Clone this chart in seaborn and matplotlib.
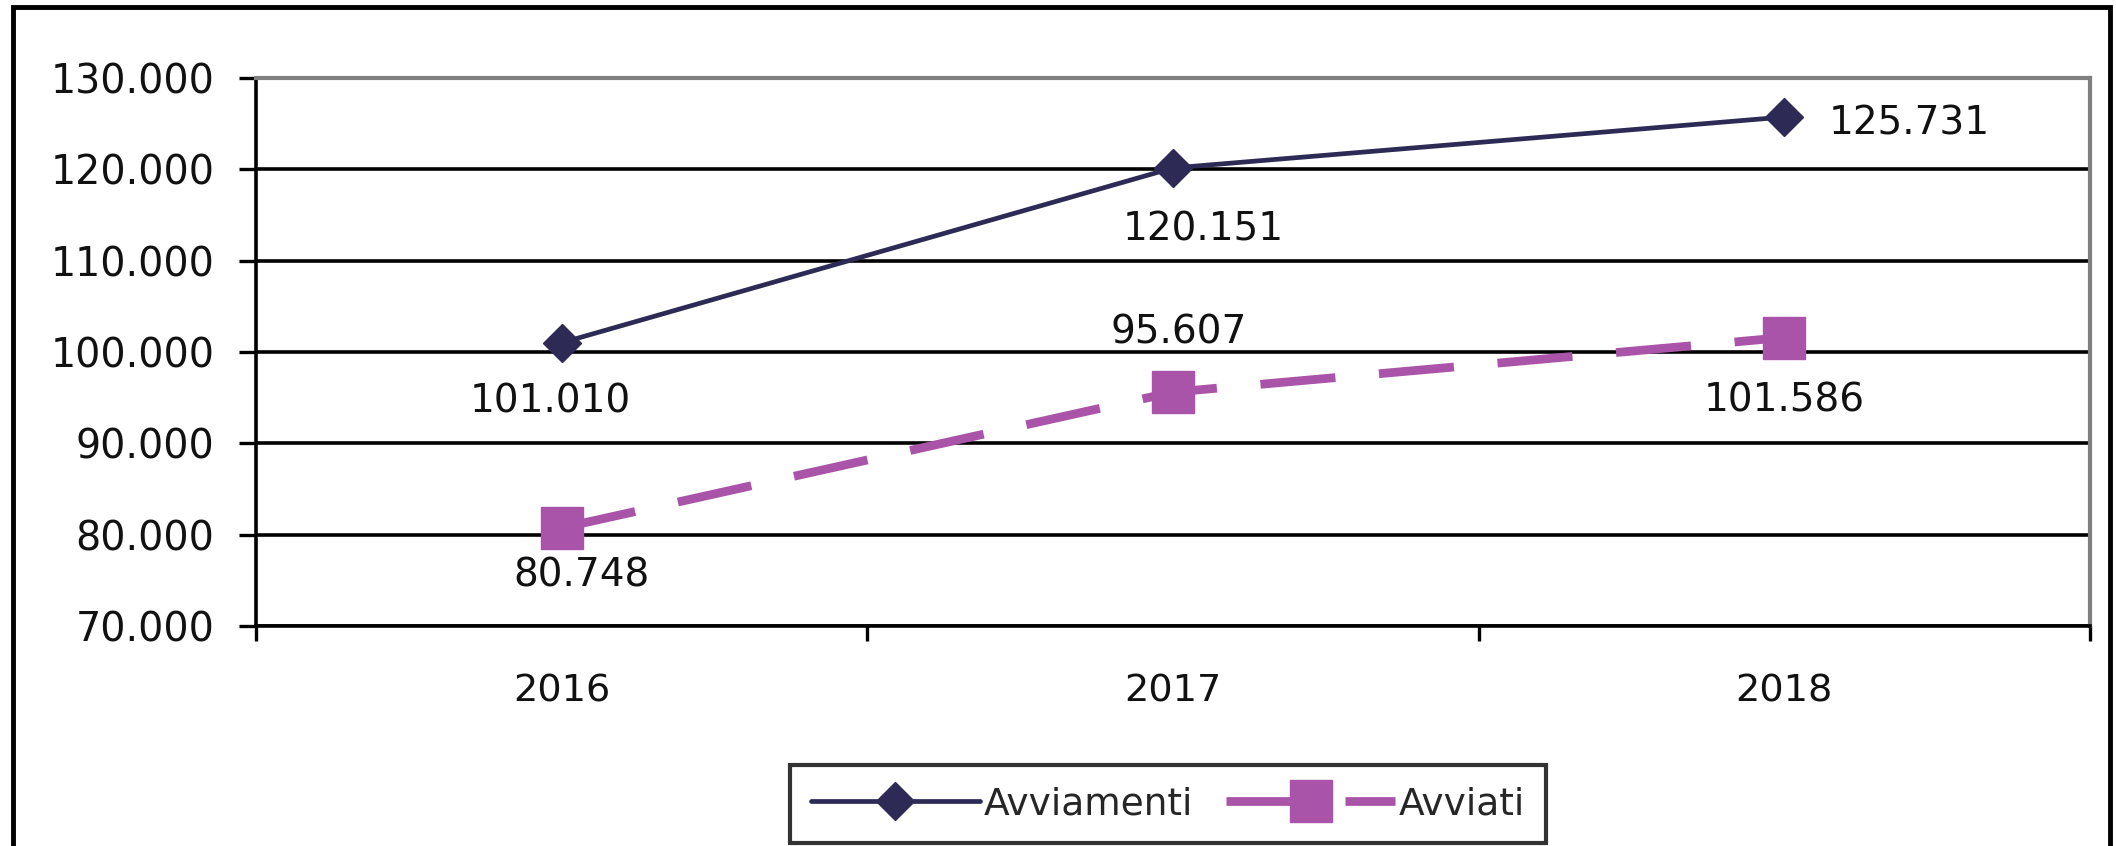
import matplotlib
matplotlib.use("Agg")
import matplotlib.pyplot as plt
import matplotlib.ticker as mticker
from matplotlib.patches import Rectangle
import seaborn as sns
import pandas as pd

# ---- data ----
years = ["2016", "2017", "2018"]
avviamenti = [101010, 120151, 125731]
avviati = [80748, 95607, 101586]
series_names = ["Avviamenti", "Avviati"]
y_ticks = [70000, 80000, 90000, 100000, 110000, 120000, 130000]

df = pd.DataFrame({
    "anno": years * 2,
    "valore": avviamenti + avviati,
    "serie": [series_names[0]] * 3 + [series_names[1]] * 3,
})
df["pos"] = list(range(len(years))) * 2

sns.set_theme(style="white")
plt.rcParams["font.family"] = ["DejaVu Sans"]

W, H = 2116, 846
fig = plt.figure(figsize=(W / 100, H / 100), dpi=100)
ax = fig.add_axes([256 / W, 1 - 626 / H, (2090 - 256) / W, (626 - 78) / H])

navy = "#2d2a56"
purple = "#a954a9"

d1 = df[df["serie"] == series_names[0]]
d2 = df[df["serie"] == series_names[1]]

sns.lineplot(data=d1, x="pos", y="valore", ax=ax, color=navy, linewidth=3.4,
             marker="D", markersize=19, markeredgecolor=navy, markeredgewidth=1,
             label=series_names[0], zorder=4)
sns.lineplot(data=d2, x="pos", y="valore", ax=ax, color=purple, linewidth=6.3,
             linestyle=(0, (8.6, 5.0)), marker="s", markersize=30,
             markeredgecolor=purple, markeredgewidth=1,
             label=series_names[1], zorder=4)

ax.set_xlim(-0.5, len(years) - 0.5)
ax.set_ylim(y_ticks[0], y_ticks[-1])
ax.set_yticks(y_ticks)
ax.yaxis.set_major_formatter(mticker.FuncFormatter(lambda v, p: f"{v:,.0f}".replace(",", ".")))
ax.set_xticks(range(len(years)))
ax.set_xticklabels(years)
ax.set_xticks([i - 0.5 for i in range(len(years) + 1)], minor=True)
ax.tick_params(axis="x", which="major", length=0, pad=34, labelsize=27.5, labelcolor="#111111")
ax.tick_params(axis="x", which="minor", length=11, width=2.4, color="black", direction="out", bottom=True)
ax.tick_params(axis="y", which="major", length=12, width=2.4, color="black", direction="out",
               left=True, pad=18, labelsize=28.5, labelcolor="#111111")
ax.set_xlabel("")
ax.set_ylabel("")

ax.grid(True, axis="y", color="black", linewidth=2.6)
ax.set_axisbelow(True)
for side in ["left", "bottom"]:
    ax.spines[side].set_color("black")
    ax.spines[side].set_linewidth(2.6)
for side in ["top", "right"]:
    ax.spines[side].set_color("#808080")
    ax.spines[side].set_linewidth(3)

# data labels
lab_fs = 28
offsets1 = [(-8, -42), (22, -44), (90, -5)]
offsets2 = [(14, -34), (4, 43), (0, -45)]
for i, v in enumerate(avviamenti):
    ax.annotate(f"{v:,.0f}".replace(",", "."), (i, v), xytext=offsets1[i],
                textcoords="offset points", ha="center", va="center",
                fontsize=lab_fs, color="#111111")
for i, v in enumerate(avviati):
    ax.annotate(f"{v:,.0f}".replace(",", "."), (i, v), xytext=offsets2[i],
                textcoords="offset points", ha="center", va="center",
                fontsize=lab_fs, color="#111111")

leg = ax.legend(loc="center", bbox_to_anchor=(1168 / W, 1 - 804 / H),
                bbox_transform=fig.transFigure, ncol=2, frameon=True,
                fontsize=27, handlelength=4.5, handletextpad=0.1,
                columnspacing=0.9, borderpad=0.55, fancybox=False,
                borderaxespad=0)
leg.get_frame().set_edgecolor("black")
leg.get_frame().set_linewidth(3)

# outer chart frame
fig.patches.append(Rectangle((13 / W, -0.02), (2110 - 13) / W, 1.02 - 7 / H,
                             transform=fig.transFigure, fill=False,
                             edgecolor="black", linewidth=3.5))

fig.savefig("out.png", dpi=100)
